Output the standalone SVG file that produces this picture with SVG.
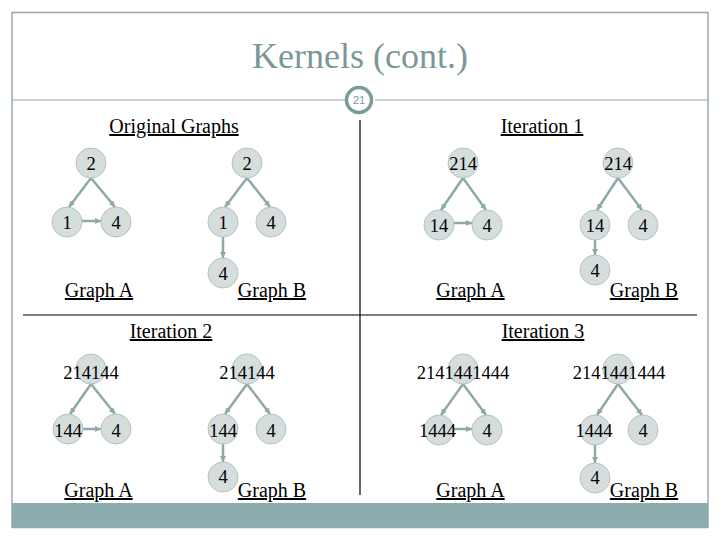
<svg xmlns="http://www.w3.org/2000/svg" width="720" height="540" viewBox="0 0 720 540">
<defs>
<marker id="ah" markerUnits="userSpaceOnUse" markerWidth="7" markerHeight="7" refX="6" refY="3" orient="auto">
<path d="M0,0 L6,3 L0,6 z" fill="#8fa8a8"/>
</marker>
</defs>
<style>
.frame{fill:#ffffff;stroke:#97abab;stroke-width:1.5}
.bar{fill:#8cadad}
.rule{stroke:#000;stroke-width:1.2}
.trule{stroke:#8fa5a5;stroke-width:1.2}
.title{font-family:"Liberation Serif",serif;font-size:36px;fill:#7c9797;text-anchor:middle}
.num{font-family:"Liberation Sans",sans-serif;font-size:11px;fill:#7c9797;text-anchor:middle}
.lbl{font-family:"Liberation Serif",serif;font-size:20px;fill:#000;text-anchor:middle;text-decoration:underline}
.n circle{fill:#d5dddd;stroke:#b5c2c2;stroke-width:1}
.n text{font-family:"Liberation Serif",serif;font-size:18.5px;fill:#000;text-anchor:middle}
.e line{stroke:#8fa8a8;stroke-width:2.5;marker-end:url(#ah)}
</style>
<rect class="frame" x="12" y="12.5" width="696" height="515"/>
<rect class="bar" x="12" y="503" width="696" height="24.5"/>
<text class="title" x="360" y="68">Kernels (cont.)</text>
<line class="trule" x1="12" y1="100" x2="345" y2="100"/>
<line class="trule" x1="375" y1="100" x2="708" y2="100"/>
<circle cx="359" cy="100" r="12.5" fill="#fff" stroke="#7d9a9a" stroke-width="3.5"/>
<text class="num" x="359" y="104">21</text>
<line class="rule" x1="360" y1="120" x2="360" y2="495"/>
<line class="rule" x1="23" y1="315" x2="697" y2="315"/>
<g id="labels">
<text class="lbl" x="174" y="133">Original Graphs</text>
<text class="lbl" x="542" y="133">Iteration 1</text>
<text class="lbl" x="171" y="338">Iteration 2</text>
<text class="lbl" x="543" y="338">Iteration 3</text>
<text class="lbl" x="99" y="297">Graph A</text>
<text class="lbl" x="272" y="297">Graph B</text>
<text class="lbl" x="470.5" y="297">Graph A</text>
<text class="lbl" x="644" y="297">Graph B</text>
<text class="lbl" x="98.5" y="497">Graph A</text>
<text class="lbl" x="272" y="497">Graph B</text>
<text class="lbl" x="470.5" y="497">Graph A</text>
<text class="lbl" x="644" y="497">Graph B</text>
</g>
<g id="connectors" class="e">
<line x1="91" y1="178" x2="69" y2="207"/>
<line x1="91" y1="178" x2="115" y2="207"/>
<line x1="82" y1="221" x2="101" y2="221"/>
<line x1="247" y1="178" x2="225" y2="207"/>
<line x1="247" y1="178" x2="270" y2="207"/>
<line x1="223" y1="237" x2="223" y2="258"/>
<line x1="463" y1="178" x2="441" y2="210"/>
<line x1="463" y1="178" x2="486" y2="210"/>
<line x1="454" y1="223" x2="472" y2="223"/>
<line x1="618" y1="178" x2="597" y2="210"/>
<line x1="618" y1="178" x2="642" y2="210"/>
<line x1="595" y1="240" x2="595" y2="255"/>
<line x1="91" y1="384" x2="70" y2="414"/>
<line x1="91" y1="384" x2="115" y2="414"/>
<line x1="83" y1="429" x2="101" y2="429"/>
<line x1="247" y1="384" x2="225" y2="414"/>
<line x1="247" y1="384" x2="270" y2="414"/>
<line x1="223" y1="444" x2="223" y2="462"/>
<line x1="463" y1="384" x2="441" y2="415"/>
<line x1="463" y1="384" x2="486" y2="415"/>
<line x1="454" y1="429" x2="472" y2="429"/>
<line x1="618" y1="384" x2="597" y2="415"/>
<line x1="618" y1="384" x2="642" y2="415"/>
<line x1="595" y1="445" x2="595" y2="463"/>
</g>
<g id="q1a-2" class="n"><circle cx="91" cy="163" r="15"/><text x="91" y="169.5">2</text></g>
<g id="q1a-1" class="n"><circle cx="67" cy="222" r="15"/><text x="67" y="228.5">1</text></g>
<g id="q1a-4" class="n"><circle cx="116" cy="222" r="15"/><text x="116" y="228.5">4</text></g>
<g id="q1b-2" class="n"><circle cx="247" cy="163" r="15"/><text x="247" y="169.5">2</text></g>
<g id="q1b-1" class="n"><circle cx="223" cy="222" r="15"/><text x="223" y="228.5">1</text></g>
<g id="q1b-4r" class="n"><circle cx="271" cy="222" r="15"/><text x="271" y="228.5">4</text></g>
<g id="q1b-4b" class="n"><circle cx="223" cy="273" r="15"/><text x="223" y="279.5">4</text></g>
<g id="q2a-214" class="n"><circle cx="463" cy="163" r="15"/><text x="463" y="169.5">214</text></g>
<g id="q2a-14" class="n"><circle cx="439" cy="225" r="15"/><text x="439" y="231.5">14</text></g>
<g id="q2a-4" class="n"><circle cx="487" cy="225" r="15"/><text x="487" y="231.5">4</text></g>
<g id="q2b-214" class="n"><circle cx="618" cy="163" r="15"/><text x="618" y="169.5">214</text></g>
<g id="q2b-14" class="n"><circle cx="595" cy="225" r="15"/><text x="595" y="231.5">14</text></g>
<g id="q2b-4r" class="n"><circle cx="643" cy="225" r="15"/><text x="643" y="231.5">4</text></g>
<g id="q2b-4b" class="n"><circle cx="595" cy="270" r="15"/><text x="595" y="276.5">4</text></g>
<g id="q3a-214144" class="n"><circle cx="91" cy="369" r="15"/><text x="91" y="379">214144</text></g>
<g id="q3a-144" class="n"><circle cx="68" cy="429" r="15"/><text x="68" y="437">144</text></g>
<g id="q3a-4" class="n"><circle cx="116" cy="429" r="15"/><text x="116" y="437">4</text></g>
<g id="q3b-214144" class="n"><circle cx="247" cy="369" r="15"/><text x="247" y="379">214144</text></g>
<g id="q3b-144" class="n"><circle cx="223" cy="429" r="15"/><text x="223" y="437">144</text></g>
<g id="q3b-4r" class="n"><circle cx="271" cy="429" r="15"/><text x="271" y="437">4</text></g>
<g id="q3b-4b" class="n"><circle cx="223" cy="477" r="15"/><text x="223" y="483">4</text></g>
<g id="q4a-top" class="n"><circle cx="463" cy="369" r="15"/><text x="463" y="379">2141441444</text></g>
<g id="q4a-1444" class="n"><circle cx="439" cy="430" r="15"/><text x="437.5" y="437">1444</text></g>
<g id="q4a-4" class="n"><circle cx="487" cy="430" r="15"/><text x="487" y="437">4</text></g>
<g id="q4b-top" class="n"><circle cx="618" cy="369" r="15"/><text x="619" y="379">2141441444</text></g>
<g id="q4b-1444" class="n"><circle cx="595" cy="430" r="15"/><text x="594" y="437">1444</text></g>
<g id="q4b-4r" class="n"><circle cx="643" cy="430" r="15"/><text x="643" y="437">4</text></g>
<g id="q4b-4b" class="n"><circle cx="595" cy="478" r="15"/><text x="595" y="484">4</text></g>
</svg>
